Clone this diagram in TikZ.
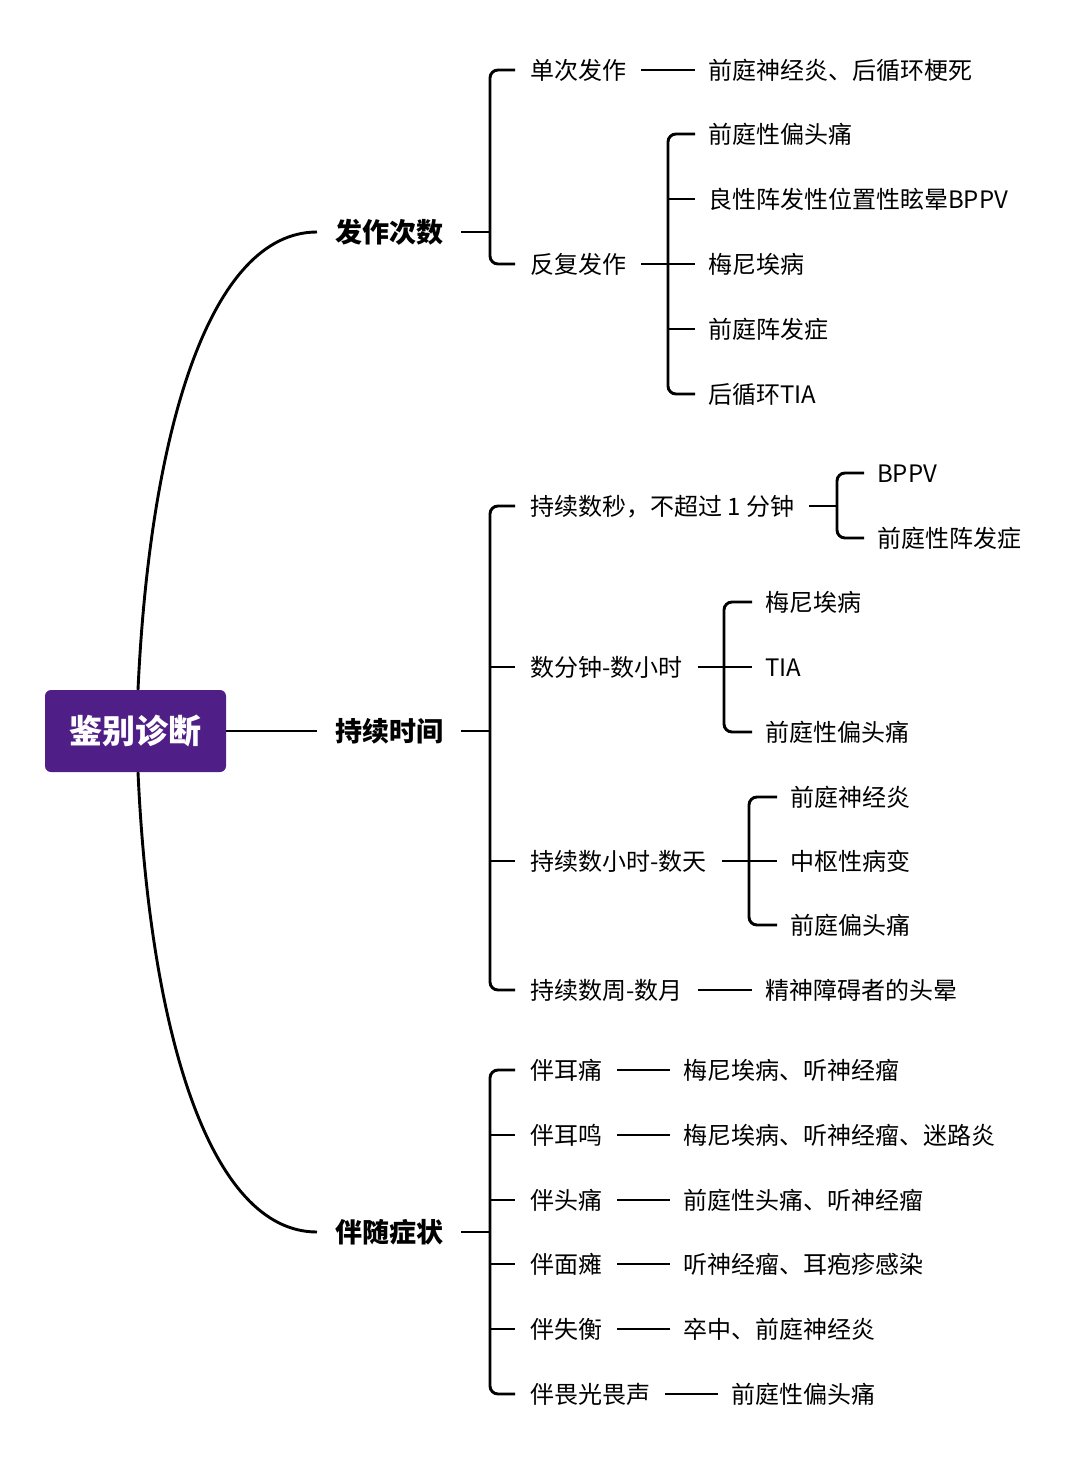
\documentclass[tikz,border=0pt]{standalone}
\usepackage{fontspec}
\setmainfont{Noto Sans CJK SC}
\definecolor{rootpurple}{RGB}{80,30,135}
\tikzset{
  conn/.style={line width=2.9pt, black},
  brk/.style={conn, rounded corners=8pt},
  rootbox/.style={fill=rootpurple, rounded corners=6pt, minimum width=181pt, minimum height=82pt, text=white, font=\fontsize{33}{33}\selectfont\bfseries, inner sep=0pt},
  lone/.style={anchor=west, inner xsep=18pt, inner ysep=0pt, text height=23.8pt, text depth=3.2pt, font=\fontsize{27}{27}\selectfont\bfseries},
  ltwo/.style={anchor=west, inner xsep=15pt, inner ysep=0pt, text height=21.1pt, text depth=2.9pt, font=\fontsize{24}{24}\selectfont},
  leaf/.style={anchor=west, inner xsep=13pt, inner ysep=0pt, text height=21.1pt, text depth=2.9pt, font=\fontsize{24}{24}\selectfont},
}
\begin{document}
\begin{tikzpicture}[x=1pt,y=-1pt]
\fill[white] (0,0) rectangle (1080,1463);
\useasboundingbox (0,0) rectangle (1080,1463);

% root
\node[rootbox] (root) at (135.5,731) {鉴别诊断};

% level 1
\node[lone] (g1) at (317,232) {发作次数};
\node[lone] (g2) at (317,731) {持续时间};
\node[lone] (g3) at (317,1232) {伴随症状};

\draw[conn] (root.east) -- (g2.west);
\draw[conn] ([xshift=2.5pt]root.north) .. controls (150,430) and (210,232) .. (g1.west);
\draw[conn] ([xshift=2.5pt]root.south) .. controls (150,1034) and (210,1232) .. (g3.west);

% ---------- group 1
\node[ltwo] (a1) at (515,70) {单次发作};
\node[ltwo] (a2) at (515,264) {反复发作};
\node[leaf] (a1l) at (695,70) {前庭神经炎、后循环梗死};
\node[leaf] (a2a) at (695,134) {前庭性偏头痛};
\node[leaf] (a2b) at (695,199) {良性阵发性位置性眩晕BPPV};
\node[leaf] (a2c) at (695,264) {梅尼埃病};
\node[leaf] (a2d) at (695,329) {前庭阵发症};
\node[leaf] (a2e) at (695,394) {后循环TIA};

\coordinate (k1) at (490,232);
\draw[conn] (g1.east) -- (k1);
\draw[brk] (a1.west) -| (k1) |- (a2.west);
\draw[conn] (a1.east) -- (a1l.west);

\coordinate (k2) at (668,264);
\draw[conn] (a2.east) -- (k2);
\draw[brk] (a2a.west) -| (k2) |- (a2e.west);
\foreach \n in {a2b,a2c,a2d} \draw[conn] (k2 |- \n.west) -- (\n.west);

% ---------- group 2
\node[ltwo] (b1) at (515,506) {持续数秒，不超过 1 分钟};
\node[ltwo] (b2) at (515,667) {数分钟-数小时};
\node[ltwo] (b3) at (515,861) {持续数小时-数天};
\node[ltwo] (b4) at (515,990) {持续数周-数月};

\node[leaf] (b1a) at (864,473) {BPPV};
\node[leaf] (b1b) at (864,538) {前庭性阵发症};
\node[leaf] (b2a) at (752,602) {梅尼埃病};
\node[leaf] (b2b) at (752,667) {TIA};
\node[leaf] (b2c) at (752,732) {前庭性偏头痛};
\node[leaf] (b3a) at (777,797) {前庭神经炎};
\node[leaf] (b3b) at (777,861) {中枢性病变};
\node[leaf] (b3c) at (777,925) {前庭偏头痛};
\node[leaf] (b4a) at (752,990) {精神障碍者的头晕};

\coordinate (k3) at (490,731);
\draw[conn] (g2.east) -- (k3);
\draw[brk] (b1.west) -| (k3) |- (b4.west);
\foreach \n in {b2,b3} \draw[conn] (k3 |- \n.west) -- (\n.west);

\coordinate (k4) at (837,506);
\draw[conn] (b1.east) -- (k4);
\draw[brk] (b1a.west) -| (k4) |- (b1b.west);

\coordinate (k5) at (724,667);
\draw[conn] (b2.east) -- (k5);
\draw[brk] (b2a.west) -| (k5) |- (b2c.west);
\draw[conn] (k5) -- (b2b.west);

\coordinate (k6) at (749,861);
\draw[conn] (b3.east) -- (k6);
\draw[brk] (b3a.west) -| (k6) |- (b3c.west);
\draw[conn] (k6) -- (b3b.west);

\draw[conn] (b4.east) -- (b4a.west);

% ---------- group 3
\node[ltwo] (c1) at (515,1070) {伴耳痛};
\node[ltwo] (c2) at (515,1135) {伴耳鸣};
\node[ltwo] (c3) at (515,1200) {伴头痛};
\node[ltwo] (c4) at (515,1264) {伴面瘫};
\node[ltwo] (c5) at (515,1329) {伴失衡};
\node[ltwo] (c6) at (515,1394) {伴畏光畏声};

\node[leaf] (c1a) at (670,1070) {梅尼埃病、听神经瘤};
\node[leaf] (c2a) at (670,1135) {梅尼埃病、听神经瘤、迷路炎};
\node[leaf] (c3a) at (670,1200) {前庭性头痛、听神经瘤};
\node[leaf] (c4a) at (670,1264) {听神经瘤、耳疱疹感染};
\node[leaf] (c5a) at (670,1329) {卒中、前庭神经炎};
\node[leaf] (c6a) at (718,1394) {前庭性偏头痛};

\coordinate (k7) at (490,1232);
\draw[conn] (g3.east) -- (k7);
\draw[brk] (c1.west) -| (k7) |- (c6.west);
\foreach \n in {c2,c3,c4,c5} \draw[conn] (k7 |- \n.west) -- (\n.west);
\foreach \n in {c1,c2,c3,c4,c5,c6} \draw[conn] (\n.east) -- (\n a.west);

\end{tikzpicture}
\end{document}
